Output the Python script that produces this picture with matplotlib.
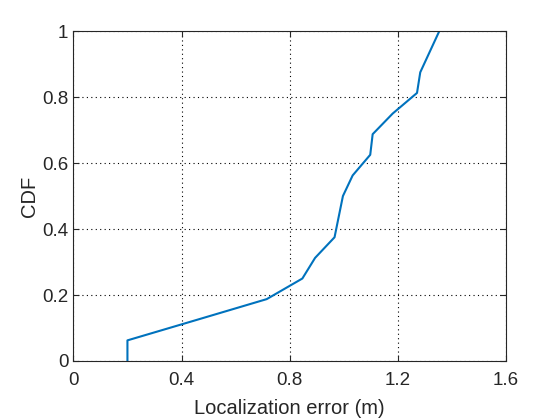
import matplotlib
matplotlib.use("Agg")
import matplotlib.pyplot as plt

# CDF of localization error
error_m = [0.20, 0.20, 0.458, 0.715, 0.847, 0.894, 0.966, 0.997, 1.033,
           1.098, 1.107, 1.181, 1.271, 1.283, 1.3535]
cdf = [0.0, 0.0625, 0.125, 0.1875, 0.25, 0.3125, 0.375, 0.5, 0.5625,
       0.625, 0.6875, 0.75, 0.8125, 0.875, 1.0]

xticks = [0, 0.4, 0.8, 1.2, 1.6]
xtick_labels = ["0", "0.4", "0.8", "1.2", "1.6"]
yticks = [0, 0.2, 0.4, 0.6, 0.8, 1.0]
ytick_labels = ["0", "0.2", "0.4", "0.6", "0.8", "1"]

plt.rcParams['font.family'] = ['Liberation Sans', 'DejaVu Sans']

fig = plt.figure(figsize=(5.6, 4.2), dpi=100)
ax = fig.add_axes([0.131, 0.1405, 0.7725, 0.7855])

ax.plot(error_m, cdf, color='#0072BD', linewidth=1.5)

ax.set_xlim(0, 1.6)
ax.set_ylim(0, 1)
ax.set_xticks(xticks)
ax.set_xticklabels(xtick_labels)
ax.set_yticks(yticks)
ax.set_yticklabels(ytick_labels)

ax.grid(True, color='black', linestyle=(0, (1, 3)), linewidth=0.8)
ax.tick_params(direction='in', length=4, width=0.8, colors='#262626',
               labelsize=13.5, top=True, right=True, labeltop=False, labelright=False)
ax.tick_params(axis='x', pad=8)
for s in ax.spines.values():
    s.set_color('#262626')
    s.set_linewidth(0.8)

ax.set_xlabel("Localization error (m)", fontsize=14.5, color='#262626', labelpad=7)
ax.set_ylabel("CDF", fontsize=14.5, color='#262626', labelpad=2)

fig.savefig("out.png", dpi=100)
